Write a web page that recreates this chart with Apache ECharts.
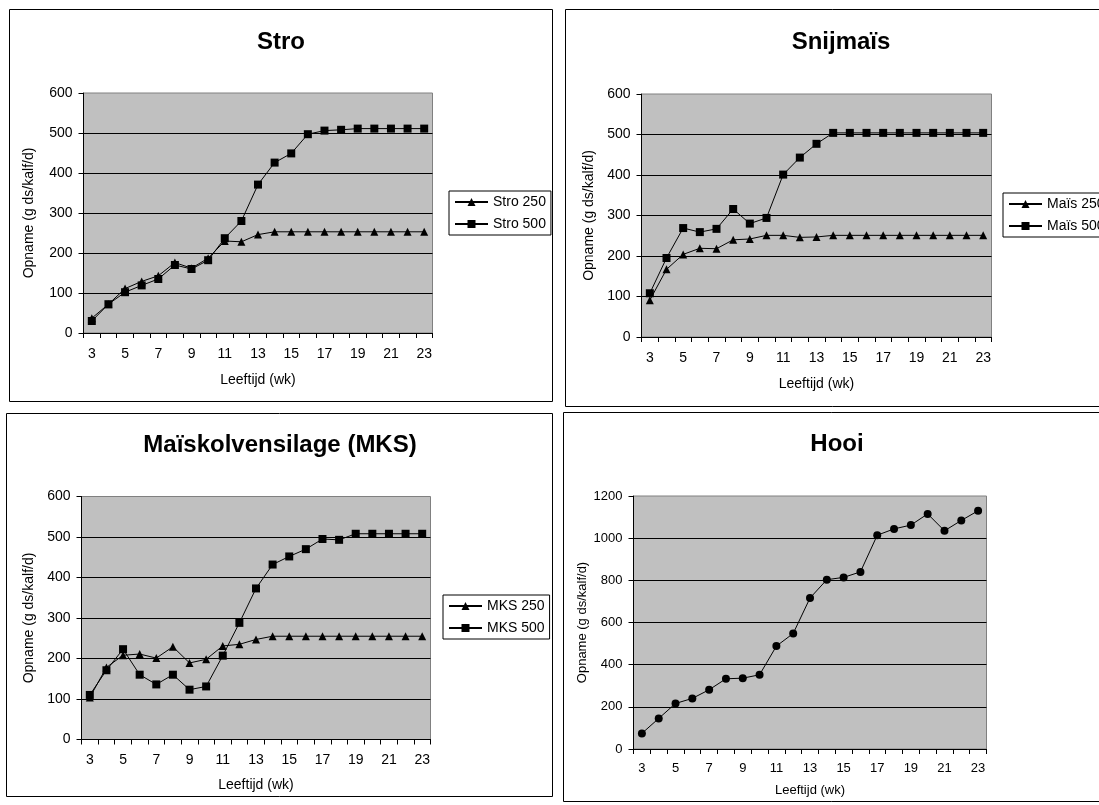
<!DOCTYPE html>
<html>
<head>
<meta charset="utf-8">
<script src="https://cdn.jsdelivr.net/npm/echarts@6/dist/echarts.min.js"></script>
<style>
html,body{margin:0;padding:0;background:#fff;overflow:hidden;}
#c{width:1099px;height:805px;}
</style>
</head>
<body>
<div id="c"></div>
<script>
const weeks = ['3','4','5','6','7','8','9','10','11','12','13','14','15','16','17','18','19','20','21','22','23'];
const stro250 = [37,72,111,129,143,176,162,187,230,228,246,253,253,253,253,253,253,253,253,253,253];
const stro500 = [30,72,102,119,135,170,160,182,237,280,371,426,449,497,506,508,511,511,511,511,511];
const mais250 = [91,167,204,219,218,240,242,251,251,246,247,251,251,251,251,251,251,251,251,251,251];
const mais500 = [108,195,269,259,267,316,280,294,401,443,477,504,504,504,504,504,504,504,504,504,504];
const mks250 = [104,178,208,211,201,229,189,198,231,235,247,255,255,255,255,255,255,255,255,255,255];
const mks500 = [110,171,223,160,136,160,123,131,207,288,373,432,452,470,495,493,508,508,508,508,508];
const hooi = [74,145,216,240,281,333,336,352,488,548,716,803,814,840,1014,1044,1062,1115,1035,1084,1130];
const titles = ['Stro','Snijmaïs','Maïskolvensilage (MKS)','Hooi'];
const xName = 'Leeftijd (wk)';
const yName = 'Opname (g ds/kalf/d)';

const FF = '"Liberation Sans", Arial, sans-serif';

function xAxis(gi, fs, nameGap, margin) {
  return {
    type: 'category', gridIndex: gi, data: weeks, boundaryGap: true,
    name: xName, nameLocation: 'middle', nameGap: nameGap,
    nameTextStyle: {fontFamily: FF, fontSize: fs, color: '#000'},
    axisLine: {lineStyle: {color: '#000', width: 1}},
    axisTick: {show: true, inside: false, length: 5, interval: 0, alignWithLabel: false, lineStyle: {color: '#000'}},
    axisLabel: {interval: 1, margin: margin, fontFamily: FF, fontSize: fs, color: '#000'},
    splitLine: {show: false}
  };
}
function yAxis(gi, max, interval, fs, nameGap) {
  return {
    type: 'value', gridIndex: gi, min: 0, max: max, interval: interval,
    name: yName, nameLocation: 'middle', nameGap: nameGap,
    nameTextStyle: {fontFamily: FF, fontSize: fs, color: '#000'},
    axisLine: {show: true, lineStyle: {color: '#000', width: 1}},
    axisTick: {show: true, inside: false, length: 5, lineStyle: {color: '#000'}},
    axisLabel: {margin: 11, fontFamily: FF, fontSize: fs, color: '#000', formatter: function (v) { return String(v); }},
    splitLine: {show: true, showMaxLine: false, lineStyle: {color: '#000', width: 1}}
  };
}
function line(name, data, gi, symbol, size) {
  return {
    name: name, type: 'line', xAxisIndex: gi, yAxisIndex: gi, data: data,
    symbol: symbol, symbolSize: size, showAllSymbol: true,
    lineStyle: {color: '#000', width: 1},
    itemStyle: {color: '#000', borderColor: '#000', borderWidth: 0},
    emphasis: {disabled: true}, animation: false, z: 3
  };
}
function legend(names, left, top) {
  return {
    data: names, orient: 'vertical', left: left, top: top,
    padding: [3, 5], itemGap: 6, itemWidth: 33, itemHeight: 10,
    borderColor: '#000', borderWidth: 1, backgroundColor: '#fff', borderRadius: 0,
    textStyle: {fontFamily: FF, fontSize: 14, color: '#000', lineHeight: 16},
    selectedMode: false
  };
}
function title(text, x, top) {
  return {
    text: text, left: x, top: top, textAlign: 'center', padding: 0,
    textStyle: {fontFamily: FF, fontSize: 24, fontWeight: 'bold', color: '#000', lineHeight: 26}
  };
}
const gridStyle = {show: true, backgroundColor: '#c0c0c0', borderColor: '#808080', borderWidth: 1, containLabel: false};

const chart = echarts.init(document.getElementById('c'), null, {renderer: 'canvas'});
chart.setOption({
  animation: false,
  backgroundColor: '#fff',
  title: [
    title(titles[0], 281, 29),
    title(titles[1], 841, 29),
    title(titles[2], 280, 432),
    title(titles[3], 837, 431)
  ],
  legend: [
    legend(['Stro 250','Stro 500'], 449, 191),
    legend(['Maïs 250','Maïs 500'], 1003, 193),
    legend(['MKS 250','MKS 500'], 443, 595)
  ],
  grid: [
    Object.assign({left: 83.5, top: 93, width: 349, height: 240}, gridStyle),
    Object.assign({left: 641.5, top: 94, width: 350, height: 243}, gridStyle),
    Object.assign({left: 81.5, top: 496.5, width: 349, height: 243}, gridStyle),
    Object.assign({left: 633.5, top: 496, width: 353, height: 253}, gridStyle)
  ],
  xAxis: [xAxis(0, 14, 40, 14), xAxis(1, 14, 40, 14), xAxis(2, 14, 39, 14), xAxis(3, 13, 35, 13)],
  yAxis: [yAxis(0, 600, 100, 14, 47), yAxis(1, 600, 100, 14, 45), yAxis(2, 600, 100, 14, 45), yAxis(3, 1200, 200, 13, 45)],
  series: [
    line('Stro 250', stro250, 0, 'triangle', 8),
    line('Stro 500', stro500, 0, 'rect', 8),
    line('Maïs 250', mais250, 1, 'triangle', 8),
    line('Maïs 500', mais500, 1, 'rect', 8),
    line('MKS 250', mks250, 2, 'triangle', 8),
    line('MKS 500', mks500, 2, 'rect', 8),
    line('Hooi', hooi, 3, 'circle', 8)
  ],
  graphic: [
    {type: 'rect', shape: {x: 9.5, y: 9.5, width: 543, height: 392}, style: {fill: 'none', stroke: '#000', lineWidth: 1}, silent: true, z: 0},
    {type: 'rect', shape: {x: 565.5, y: 9.5, width: 600, height: 397}, style: {fill: 'none', stroke: '#000', lineWidth: 1}, silent: true, z: 0},
    {type: 'rect', shape: {x: 6.5, y: 413.5, width: 546, height: 383}, style: {fill: 'none', stroke: '#000', lineWidth: 1}, silent: true, z: 0},
    {type: 'rect', shape: {x: 563.5, y: 412.5, width: 600, height: 389}, style: {fill: 'none', stroke: '#000', lineWidth: 1}, silent: true, z: 0}
  ]
});
</script>
</body>
</html>
